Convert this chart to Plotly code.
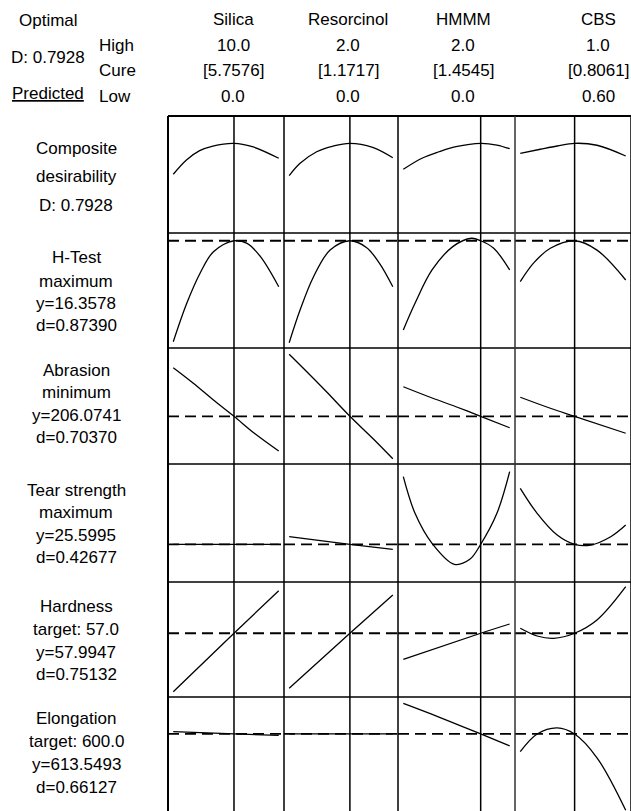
import plotly.graph_objects as go

W, H = 631, 811

# ---------------- data ----------------
factors = ["Silica", "Resorcinol", "HMMM", "CBS"]
high = [10.0, 2.0, 2.0, 1.0]
low = [0.0, 0.0, 0.0, 0.6]
cure = [5.7576, 1.1717, 1.4545, 0.8061]
high_lbl = ["10.0", "2.0", "2.0", "1.0"]
cure_lbl = ["[5.7576]", "[1.1717]", "[1.4545]", "[0.8061]"]
low_lbl = ["0.0", "0.0", "0.0", "0.60"]

resp_labels = [
    ["Composite", "desirability", "D: 0.7928"],
    ["H-Test", "maximum", "y=16.3578", "d=0.87390"],
    ["Abrasion", "minimum", "y=206.0741", "d=0.70370"],
    ["Tear strength", "maximum", "y=25.5995", "d=0.42677"],
    ["Hardness", "target: 57.0", "y=57.9947", "d=0.75132"],
    ["Elongation", "target: 600.0", "y=613.5493", "d=0.66127"],
]
predicted = [0.7928, 16.3578, 206.0741, 25.5995, 57.9947, 613.5493]
show_ref = [False, True, True, True, True, True]

# Composite desirability
d_silica_x = [0, 1.25, 2.5, 3.75, 5.7576, 7.5, 10]
d_silica_y = [0.507, 0.639, 0.725, 0.768, 0.7928, 0.762, 0.655]
d_resor_x = [0, 0.21, 0.53, 0.85, 1.1717, 1.61, 2.0]
d_resor_y = [0.494, 0.608, 0.715, 0.768, 0.7928, 0.756, 0.660]
d_hmmm_x = [0, 0.35, 0.67, 0.99, 1.4545, 1.76, 2.0]
d_hmmm_y = [0.553, 0.655, 0.715, 0.762, 0.7928, 0.777, 0.743]
d_cbs_x = [0.6, 0.676, 0.74, 0.8061, 0.891, 1.0]
d_cbs_y = [0.701, 0.738, 0.768, 0.7928, 0.775, 0.676]

# H-Test
h_silica_x = [0, 1.28, 2.54, 3.81, 5.7576, 7.0, 8.27, 10]
h_silica_y = [10.21, 12.55, 14.38, 15.69, 16.3578, 16.20, 15.39, 13.56]
h_resor_x = [0, 0.21, 0.47, 0.79, 1.1717, 1.49, 1.74, 2.0]
h_resor_y = [10.15, 12.14, 14.17, 15.79, 16.3578, 15.95, 15.00, 13.56]
h_hmmm_x = [0, 0.22, 0.54, 0.93, 1.28, 1.4545, 1.70, 2.0]
h_hmmm_y = [10.93, 12.55, 14.58, 16.00, 16.51, 16.3578, 15.90, 14.58]
h_cbs_x = [0.6, 0.651, 0.714, 0.8061, 0.891, 1.0]
h_cbs_y = [13.87, 15.01, 15.90, 16.3578, 15.79, 13.97]

# Abrasion
a_silica_x = [0, 1.9, 3.81, 5.7576, 7.69, 10]
a_silica_y = [244.9, 232.5, 219.1, 206.0741, 192.5, 178.3]
a_resor_x = [0, 0.34, 0.72, 1.1717, 1.61, 2.0]
a_resor_y = [255.7, 241.7, 225.7, 206.0741, 188.5, 172.1]
a_hmmm_x = [0, 0.48, 0.99, 1.4545, 2.0]
a_hmmm_y = [229.7, 221.7, 213.7, 206.0741, 196.9]
a_cbs_x = [0.6, 0.714, 0.8061, 1.0]
a_cbs_y = [221.3, 212.5, 206.0741, 192.5]

# Tear strength
t_silica_x = [0, 5.7576, 10]
t_silica_y = [25.5995, 25.5995, 25.5995]
t_resor_x = [0, 1.1717, 2.0]
t_resor_y = [26.36, 25.5995, 25.10]
t_hmmm_x = [0, 0.22, 0.54, 0.96, 1.25, 1.4545, 1.76, 2.0]
t_hmmm_y = [32.36, 28.70, 25.70, 23.60, 24.10, 25.5995, 28.70, 32.86]
t_cbs_x = [0.6, 0.664, 0.74, 0.8061, 0.867, 0.943, 1.0]
t_cbs_y = [31.20, 28.70, 26.53, 25.5995, 25.53, 26.36, 27.53]

# Hardness
hd_silica_x = [0, 5.7576, 10]
hd_silica_y = [52.15, 57.9947, 62.25]
hd_resor_x = [0, 1.1717, 2.0]
hd_resor_y = [52.49, 57.9947, 61.82]
hd_hmmm_x = [0, 1.4545, 2.0]
hd_hmmm_y = [55.39, 57.9947, 58.92]
hd_cbs_x = [0.6, 0.664, 0.727, 0.8061, 0.891, 1.0]
hd_cbs_y = [58.49, 57.72, 57.49, 57.9947, 59.32, 62.65]

# Elongation
e_silica_x = [0, 5.7576, 10]
e_silica_y = [615.85, 613.5493, 612.15]
e_resor_x = [0, 1.1717, 2.0]
e_resor_y = [613.5493, 613.5493, 613.5493]
e_hmmm_x = [0, 0.67, 1.4545, 2.0]
e_hmmm_y = [643.55, 630.15, 613.5493, 601.85]
e_cbs_x = [0.6, 0.664, 0.74, 0.8061, 0.891, 1.0]
e_cbs_y = [596.15, 613.55, 619.55, 613.5493, 590.15, 538.55]

curves = [
    [(d_silica_x, d_silica_y), (d_resor_x, d_resor_y), (d_hmmm_x, d_hmmm_y), (d_cbs_x, d_cbs_y)],
    [(h_silica_x, h_silica_y), (h_resor_x, h_resor_y), (h_hmmm_x, h_hmmm_y), (h_cbs_x, h_cbs_y)],
    [(a_silica_x, a_silica_y), (a_resor_x, a_resor_y), (a_hmmm_x, a_hmmm_y), (a_cbs_x, a_cbs_y)],
    [(t_silica_x, t_silica_y), (t_resor_x, t_resor_y), (t_hmmm_x, t_hmmm_y), (t_cbs_x, t_cbs_y)],
    [(hd_silica_x, hd_silica_y), (hd_resor_x, hd_resor_y), (hd_hmmm_x, hd_hmmm_y), (hd_cbs_x, hd_cbs_y)],
    [(e_silica_x, e_silica_y), (e_resor_x, e_resor_y), (e_hmmm_x, e_hmmm_y), (e_cbs_x, e_cbs_y)],
]

# ---------------- layout geometry ----------------
col_px = [168, 284, 398, 515, 631]
row_px = [116, 233, 348, 464, 582, 697, 811]
row_ranges = [
    [-0.035, 1.045],
    [9.83, 16.83],
    [167.9, 260.7],
    [21.83, 33.63],
    [51.62, 63.12],
    [537.85, 649.85],
]

FONT = "Liberation Sans, Arial, sans-serif"
FS = 17

fig = go.Figure()
layout = {}
shapes = []

for r in range(6):
    for c in range(4):
        k = r * 4 + c + 1
        xa = "xaxis" if k == 1 else f"xaxis{k}"
        ya = "yaxis" if k == 1 else f"yaxis{k}"
        xr = "x" if k == 1 else f"x{k}"
        yr = "y" if k == 1 else f"y{k}"
        span = high[c] - low[c]
        layout[xa] = dict(
            domain=[col_px[c] / W, col_px[c + 1] / W],
            range=[low[c] - 0.05 * span, high[c] + 0.05 * span],
            anchor=yr, showline=False,
            showgrid=False, zeroline=False, showticklabels=False, ticks="",
        )
        layout[ya] = dict(
            domain=[1 - row_px[r + 1] / H, 1 - row_px[r] / H],
            range=row_ranges[r],
            anchor=xr, showline=False,
            showgrid=False, zeroline=False, showticklabels=False, ticks="",
        )
        xs, ys = curves[r][c]
        fig.add_trace(go.Scatter(
            x=xs, y=ys, xaxis=xr, yaxis=yr, mode="lines",
            line=dict(color="black", width=1.3, shape="spline", smoothing=1.0),
            showlegend=False, hoverinfo="skip",
        ))
        # cure (current setting) vertical line
        shapes.append(dict(type="line", xref=xr, yref=f"{yr} domain",
                           x0=cure[c], x1=cure[c], y0=0, y1=1,
                           line=dict(color="black", width=1.5), layer="above"))
        # predicted response horizontal dashed line
        if show_ref[r]:
            shapes.append(dict(type="line", xref=f"{xr} domain", yref=yr,
                               x0=0, x1=1, y0=predicted[r], y1=predicted[r],
                               line=dict(color="black", width=1.8, dash="11px,6px"),
                               layer="above"))

# cell grid (panel frame)
for i, py in enumerate(row_px[:-1]):
    shapes.append(dict(type="line", xref="paper", yref="paper",
                       x0=col_px[0] / W, x1=col_px[-1] / W,
                       y0=1 - py / H, y1=1 - py / H,
                       line=dict(color="black", width=2 if i == 0 else 1.5)))
for i, px in enumerate(col_px):
    shapes.append(dict(type="line", xref="paper", yref="paper",
                       x0=px / W, x1=px / W,
                       y0=0, y1=1 - row_px[0] / H,
                       line=dict(color="black" if i != 3 else "#333333",
                                 width=2 if i == 0 else 1.5)))

annotations = []

def txt(x, y, s, xanchor="center"):
    annotations.append(dict(x=x / W, y=1 - y / H, xref="paper", yref="paper",
                            text=s, showarrow=False, xanchor=xanchor, yanchor="middle",
                            font=dict(family=FONT, size=FS, color="black")))

# header
txt(48, 21, "Optimal")
txt(48, 57, "D: 0.7928")
txt(48, 93, "<u>Predicted</u>")
txt(97, 45, "High", "left")
txt(97, 70, "Cure", "left")
txt(97, 96, "Low", "left")
hdr_x = [233, 348, 463, 598]
for c in range(4):
    txt(hdr_x[c], 20, factors[c])
    txt(hdr_x[c], 45, high_lbl[c])
    txt(hdr_x[c], 70, cure_lbl[c])
    txt(hdr_x[c], 97, low_lbl[c])

# row labels
label_y = [
    [148, 177, 205],
    [258, 281, 303.5, 326],
    [370, 392.5, 415, 437.5],
    [490, 512.5, 535, 557.5],
    [606, 629, 652, 674],
    [718, 741, 764, 787],
]
for r in range(6):
    for line, yy in zip(resp_labels[r], label_y[r]):
        txt(76, yy, line)

fig.update_layout(
    width=W, height=H,
    margin=dict(l=0, r=0, t=0, b=0),
    paper_bgcolor="white", plot_bgcolor="white",
    shapes=shapes, annotations=annotations,
    **layout,
)

fig.write_html("out.html")
